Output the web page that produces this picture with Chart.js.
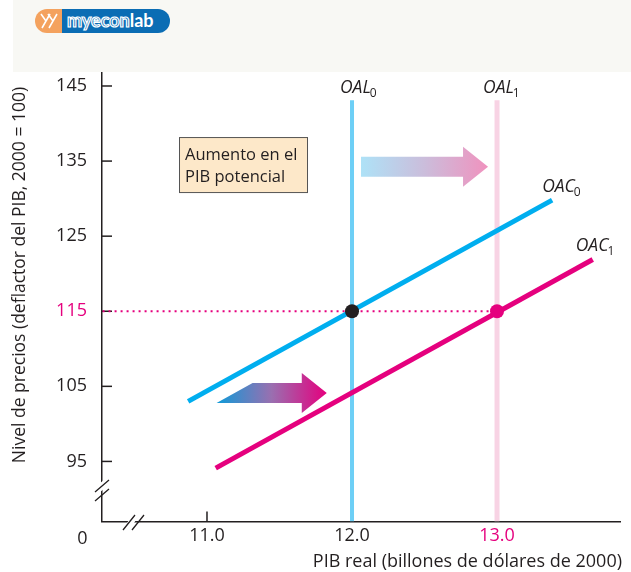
<!DOCTYPE html>
<html>
<head>
<meta charset="utf-8">
<script src="https://cdn.jsdelivr.net/npm/chart.js"></script>
<style>
html, body { margin: 0; padding: 0; background: #fff; }
#wrap { position: relative; width: 631px; height: 572px; overflow: hidden; }
#band { position: absolute; left: 13px; top: 0; width: 618px; height: 72px; background: #f8f8f4; }
#logo { position: absolute; left: 35px; top: 9px; width: 135px; height: 24px; border-radius: 12px; overflow: hidden; display: flex; }
#logo .ic { width: 27px; height: 24px; background: #f4a25e; }
#logo .tx { flex: 1; background: #0b6db4; color: #fff; font: bold 18px Lato, sans-serif; line-height: 23px; padding-left: 5px; letter-spacing: 0px; }
#logo .tx .o { color: #0b6db4; -webkit-text-stroke: 1.2px #fff; }
canvas { position: absolute; left: 0; top: 0; }
</style>
</head>
<body>
<div id="wrap">
  <div id="band"></div>
  <div id="logo">
    <div class="ic"><svg width="27" height="24"><path d="M6 5 L11 12 L7 19 M11 12 L15 5 M13 5 L18 12 L14 19 M18 12 L22 5" stroke="#fff" stroke-width="1.6" fill="none"/></svg></div>
    <div class="tx"><span class="o">myecon</span>lab</div>
  </div>
  <canvas id="myChart" width="631" height="572"></canvas>
</div>
<script>
// data
const xTicks = [11.0, 12.0, 13.0];
const yTicks = [95, 105, 115, 125, 135, 145];
const oac0X = [10.87, 13.38];
const oac0Y = [103.0, 129.8];
const oac1X = [11.06, 13.66];
const oac1Y = [94.1, 121.9];
const oal0X = [12.0, 12.0];
const oal1X = [13.0, 13.0];
const oalY = [87.0, 143.1];
const eqX = [12.0, 13.0];
const eqY = [115, 115];
const refLineX = [10.28, 13.0];
const refLineY = [115, 115];

const xMin = 10.276, xMax = 13.848;
const yMin = 87.0, yMax = 146.73;

const dark = '#231f20';
const magenta = '#e5007e';
const blue = '#00aeef';
const fontFam = '"Open Sans", sans-serif';

function pts(xs, ys) {
    return xs.map((x, i) => ({ x: x, y: ys[i] }));
}

function drawArrow(ctx, x0, x1, yc, slant, c0, c1) {
    const g = ctx.createLinearGradient(x0, 0, x1, 0);
    g.addColorStop(0, c0);
    g.addColorStop(0.5, c1[0]);
    g.addColorStop(1, c1[1]);
    ctx.fillStyle = g;
    ctx.beginPath();
    ctx.moveTo(x0, yc + 10);
    ctx.lineTo(x0 + slant, yc - 10);
    ctx.lineTo(x1 - 25, yc - 10);
    ctx.lineTo(x1 - 25, yc - 20);
    ctx.lineTo(x1, yc);
    ctx.lineTo(x1 - 25, yc + 20);
    ctx.lineTo(x1 - 25, yc + 10);
    ctx.closePath();
    ctx.fill();
}

function drawSub(ctx, main, sub, x, base) {
    ctx.fillStyle = dark;
    ctx.textAlign = 'left';
    ctx.textBaseline = 'alphabetic';
    ctx.font = 'italic 17.5px ' + fontFam;
    ctx.fillText(main, x, base);
    const w = ctx.measureText(main).width;
    ctx.font = '12px ' + fontFam;
    ctx.fillText(sub, x + w - 1, base + 4);
}

const extras = {
    id: 'extras',
    beforeDatasetsDraw(chart) {
        const ctx = chart.ctx;
        const xs = chart.scales.x, ys = chart.scales.y;
        const ca = chart.chartArea;
        ctx.save();
        // inward ticks
        ctx.strokeStyle = dark;
        ctx.lineWidth = 1.5;
        yTicks.forEach(v => {
            const y = ys.getPixelForValue(v);
            ctx.beginPath(); ctx.moveTo(ca.left, y); ctx.lineTo(ca.left + 10, y); ctx.stroke();
        });
        xTicks.forEach(v => {
            const x = xs.getPixelForValue(v);
            ctx.beginPath(); ctx.moveTo(x, ca.bottom); ctx.lineTo(x, ca.bottom - 10); ctx.stroke();
        });
        // shift arrows
        drawArrow(ctx, xs.getPixelForValue(12.062), xs.getPixelForValue(12.938), ys.getPixelForValue(134.25), 0,
            '#aee2f7', ['#cbbddb', '#f092be']);
        drawArrow(ctx, xs.getPixelForValue(11.066), xs.getPixelForValue(11.826), ys.getPixelForValue(104.1), 36,
            '#0e9ad8', ['#9a6fb0', '#e5007e']);
        // annotation box
        const bx = xs.getPixelForValue(10.807), by = ys.getPixelForValue(138.2);
        ctx.fillStyle = '#fde8c9';
        ctx.fillRect(bx, by, 129, 56);
        ctx.strokeStyle = '#555';
        ctx.lineWidth = 1;
        ctx.strokeRect(bx + 0.5, by + 0.5, 128, 55);
        ctx.fillStyle = dark;
        ctx.font = '16.5px ' + fontFam;
        ctx.textAlign = 'left';
        ctx.textBaseline = 'alphabetic';
        ctx.fillText('Aumento en el', bx + 6, by + 23);
        ctx.fillText('PIB potencial', bx + 6, by + 45);
        ctx.restore();
    },
    afterDraw(chart) {
        const ctx = chart.ctx;
        const xs = chart.scales.x, ys = chart.scales.y;
        const ca = chart.chartArea;
        ctx.save();
        // curve labels
        drawSub(ctx, 'OAL', '0', xs.getPixelForValue(oal0X[1]) - 12, ys.getPixelForValue(oalY[1]) - 7);
        drawSub(ctx, 'OAL', '1', xs.getPixelForValue(oal1X[1]) - 14, ys.getPixelForValue(oalY[1]) - 7);
        drawSub(ctx, 'OAC', '0', xs.getPixelForValue(oac0X[1]) - 10, ys.getPixelForValue(oac0Y[1]) - 8);
        drawSub(ctx, 'OAC', '1', xs.getPixelForValue(oac1X[1]) - 17, ys.getPixelForValue(oac1Y[1]) - 8);

        // axis breaks
        const yb = 491, xb = 131;
        ctx.fillStyle = '#fff';
        ctx.beginPath();
        ctx.moveTo(ca.left - 3, yb + 2); ctx.lineTo(ca.left + 3, yb - 3);
        ctx.lineTo(ca.left + 3, yb - 12); ctx.lineTo(ca.left - 3, yb - 7);
        ctx.closePath(); ctx.fill();
        ctx.beginPath();
        ctx.moveTo(xb + 2, ca.bottom + 3); ctx.lineTo(xb + 6, ca.bottom - 3);
        ctx.lineTo(xb - 1, ca.bottom - 3); ctx.lineTo(xb - 5, ca.bottom + 3);
        ctx.closePath(); ctx.fill();
        ctx.strokeStyle = dark;
        ctx.lineWidth = 1.3;
        ctx.beginPath();
        ctx.moveTo(ca.left - 7, yb + 1); ctx.lineTo(ca.left + 7, yb - 11);
        ctx.moveTo(ca.left - 7, yb + 10); ctx.lineTo(ca.left + 7, yb - 2);
        ctx.moveTo(xb - 8, ca.bottom + 8.5); ctx.lineTo(xb + 4, ca.bottom - 6.5);
        ctx.moveTo(xb + 1, ca.bottom + 8.5); ctx.lineTo(xb + 13, ca.bottom - 6.5);
        ctx.stroke();

        // origin and axis titles
        ctx.fillStyle = dark;
        ctx.font = '18px ' + fontFam;
        ctx.textAlign = 'center';
        ctx.textBaseline = 'middle';
        ctx.fillText('0', 82.5, 539);

        ctx.font = '18px ' + fontFam;
        ctx.textAlign = 'right';
        ctx.textBaseline = 'alphabetic';
        ctx.fillText('PIB real (billones de dólares de 2000)', 622, 566.5);

        ctx.font = '17.5px ' + fontFam;
        ctx.translate(20, 275);
        ctx.rotate(-Math.PI / 2);
        ctx.textAlign = 'center';
        ctx.textBaseline = 'middle';
        ctx.fillText('Nivel de precios (deflactor del PIB, 2000 = 100)', 0, 0);
        ctx.restore();
    }
};

const ctx = document.getElementById('myChart').getContext('2d');
const myChart = new Chart(ctx, {
    type: 'scatter',
    data: {
        datasets: [
            {
                label: 'equilibrios',
                data: pts(eqX, eqY),
                pointRadius: 7,
                pointHoverRadius: 7,
                pointBackgroundColor: [dark, magenta],
                pointBorderWidth: 0,
                order: 0
            },
            {
                label: 'OAC0',
                data: pts(oac0X, oac0Y),
                showLine: true,
                borderColor: blue,
                borderWidth: 5,
                borderCapStyle: 'butt',
                pointRadius: 0,
                order: 1
            },
            {
                label: 'OAC1',
                data: pts(oac1X, oac1Y),
                showLine: true,
                borderColor: magenta,
                borderWidth: 5,
                borderCapStyle: 'butt',
                pointRadius: 0,
                order: 1
            },
            {
                label: 'nivel 115',
                data: pts(refLineX, refLineY),
                showLine: true,
                borderColor: magenta,
                borderWidth: 2,
                borderDash: [2, 4],
                pointRadius: 0,
                order: 2
            },
            {
                label: 'OAL0',
                data: pts(oal0X, oalY),
                showLine: true,
                borderColor: '#6dcff6',
                borderWidth: 4,
                borderCapStyle: 'butt',
                pointRadius: 0,
                order: 3
            },
            {
                label: 'OAL1',
                data: pts(oal1X, oalY),
                showLine: true,
                borderColor: '#f8d3e4',
                borderWidth: 5,
                borderCapStyle: 'butt',
                pointRadius: 0,
                order: 3
            }
        ]
    },
    options: {
        responsive: false,
        animation: false,
        events: [],
        layout: { padding: { left: 0, right: 11, top: 73, bottom: 0 } },
        plugins: {
            legend: { display: false },
            tooltip: { enabled: false }
        },
        scales: {
            x: {
                type: 'linear',
                min: xMin,
                max: xMax,
                afterBuildTicks: s => { s.ticks = xTicks.map(v => ({ value: v })); },
                afterFit: s => { s.height = 50.5; },
                grid: { display: false, drawTicks: false },
                border: { display: true, color: dark, width: 1.5 },
                ticks: {
                    autoSkip: false,
                    maxRotation: 0,
                    padding: 4,
                    font: { family: fontFam, size: 18 },
                    color: c => c.tick.value === 13 ? magenta : dark,
                    callback: v => v.toFixed(1)
                }
            },
            y: {
                type: 'linear',
                min: yMin,
                max: yMax,
                afterBuildTicks: s => { s.ticks = yTicks.map(v => ({ value: v })); },
                afterFit: s => { s.width = 102; },
                grid: { display: false, drawTicks: false },
                border: { display: true, color: dark, width: 1.5 },
                ticks: {
                    autoSkip: false,
                    padding: 15,
                    font: { family: fontFam, size: 18 },
                    color: c => c.tick.value === 115 ? magenta : dark
                }
            }
        }
    },
    plugins: [extras]
});
</script>
</body>
</html>
